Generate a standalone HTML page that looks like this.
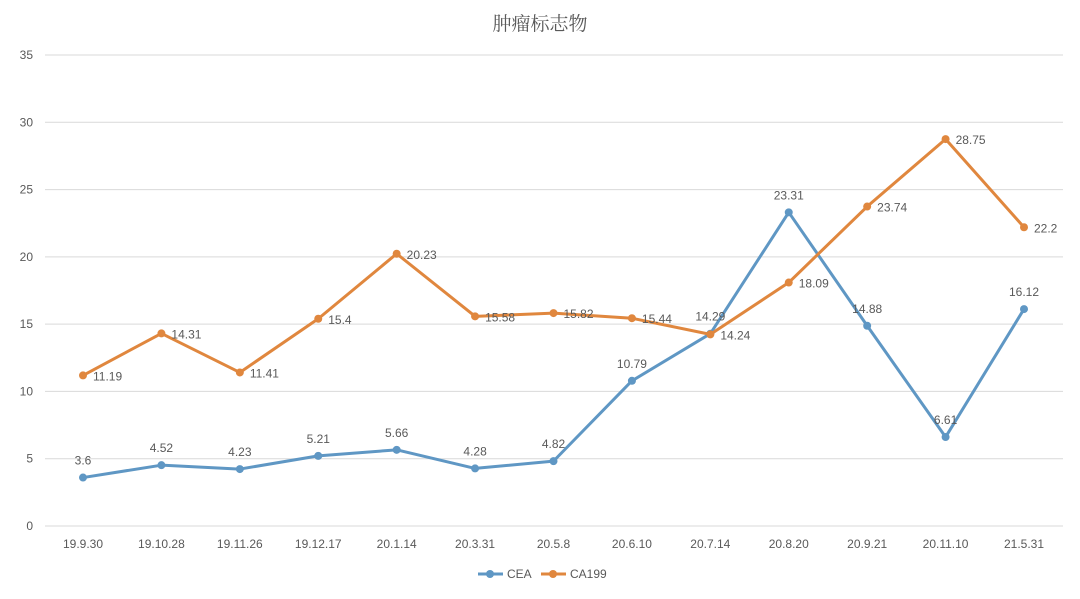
<!DOCTYPE html>
<html><head><meta charset="utf-8"><style>
body{margin:0;background:#fff;}
svg text{font-family:"Liberation Sans","Noto Sans CJK SC",sans-serif;fill:#595959;}
</style></head><body>
<svg id="chart" width="1080" height="594">
<text x="540" y="30" text-anchor="middle" font-size="19" style="font-family:'Noto Serif CJK SC','Noto Sans CJK SC',serif">肿瘤标志物</text>
<g id="grid"></g><g id="xl"></g><g id="lines"></g>
<g>
<g><line x1="478" y1="574" x2="503" y2="574" stroke="#5f97c4" stroke-width="3"/><circle cx="490" cy="574" r="4" fill="#5f97c4"/><text x="507" y="578" font-size="12">CEA</text></g>
<g><line x1="541" y1="574" x2="566" y2="574" stroke="#e0873e" stroke-width="3"/><circle cx="553" cy="574" r="4" fill="#e0873e"/><text x="570" y="578" font-size="12">CA199</text></g>
</g>
</svg>
<script>
const categories=["19.9.30","19.10.28","19.11.26","19.12.17","20.1.14","20.3.31","20.5.8","20.6.10","20.7.14","20.8.20","20.9.21","20.11.10","21.5.31"];
const ceaValues=[3.6,4.52,4.23,5.21,5.66,4.28,4.82,10.79,14.29,23.31,14.88,6.61,16.12];
const ca199Values=[11.19,14.31,11.41,15.4,20.23,15.58,15.82,15.44,14.24,18.09,23.74,28.75,22.2];
const yTicks=[0,5,10,15,20,25,30,35];
const NS="http://www.w3.org/2000/svg";
const x=i=>83+i*(1024-83)/(categories.length-1);
const y=v=>526-v*(526-55)/35;
function mk(t,a,p){const e=document.createElementNS(NS,t);for(const k in a)e.setAttribute(k,a[k]);p.appendChild(e);return e;}
const grid=document.getElementById('grid');
yTicks.forEach(t=>{
 const l=mk('line',{x1:45,x2:1063,y1:y(t),y2:y(t),stroke:'#d9d9d9','stroke-width':1},grid);
 
 
 const tx=mk('text',{x:33,y:y(t)+4,'text-anchor':'end','font-size':12},grid);tx.textContent=t;
 
 
});
const xl=document.getElementById('xl');
categories.forEach((c,i)=>{
 const tx=mk('text',{x:x(i),y:548,'text-anchor':'middle','font-size':12},xl);tx.textContent=c;
 
 
});
const lines=document.getElementById('lines');
function series(vals,color,name,above){
 const g=mk('g',{},lines);
 
 
 const pl=mk('polyline',{points:vals.map((v,i)=>x(i)+','+y(v)).join(' '),fill:'none',stroke:color,'stroke-width':3,'stroke-linejoin':'round'},g);
 
 
 vals.forEach((v,i)=>{
  const c=mk('circle',{cx:x(i),cy:y(v),r:4,fill:color},g);
  
  
  const t=above?mk('text',{x:x(i),y:y(v)-13,'text-anchor':'middle','font-size':12},g):mk('text',{x:x(i)+10,y:y(v)+5,'font-size':12},g);
  t.textContent=v;
  
  
 });
}
series(ceaValues,'#5f97c4','cea',true);
series(ca199Values,'#e0873e','ca199',false);
</script>
</body></html>
